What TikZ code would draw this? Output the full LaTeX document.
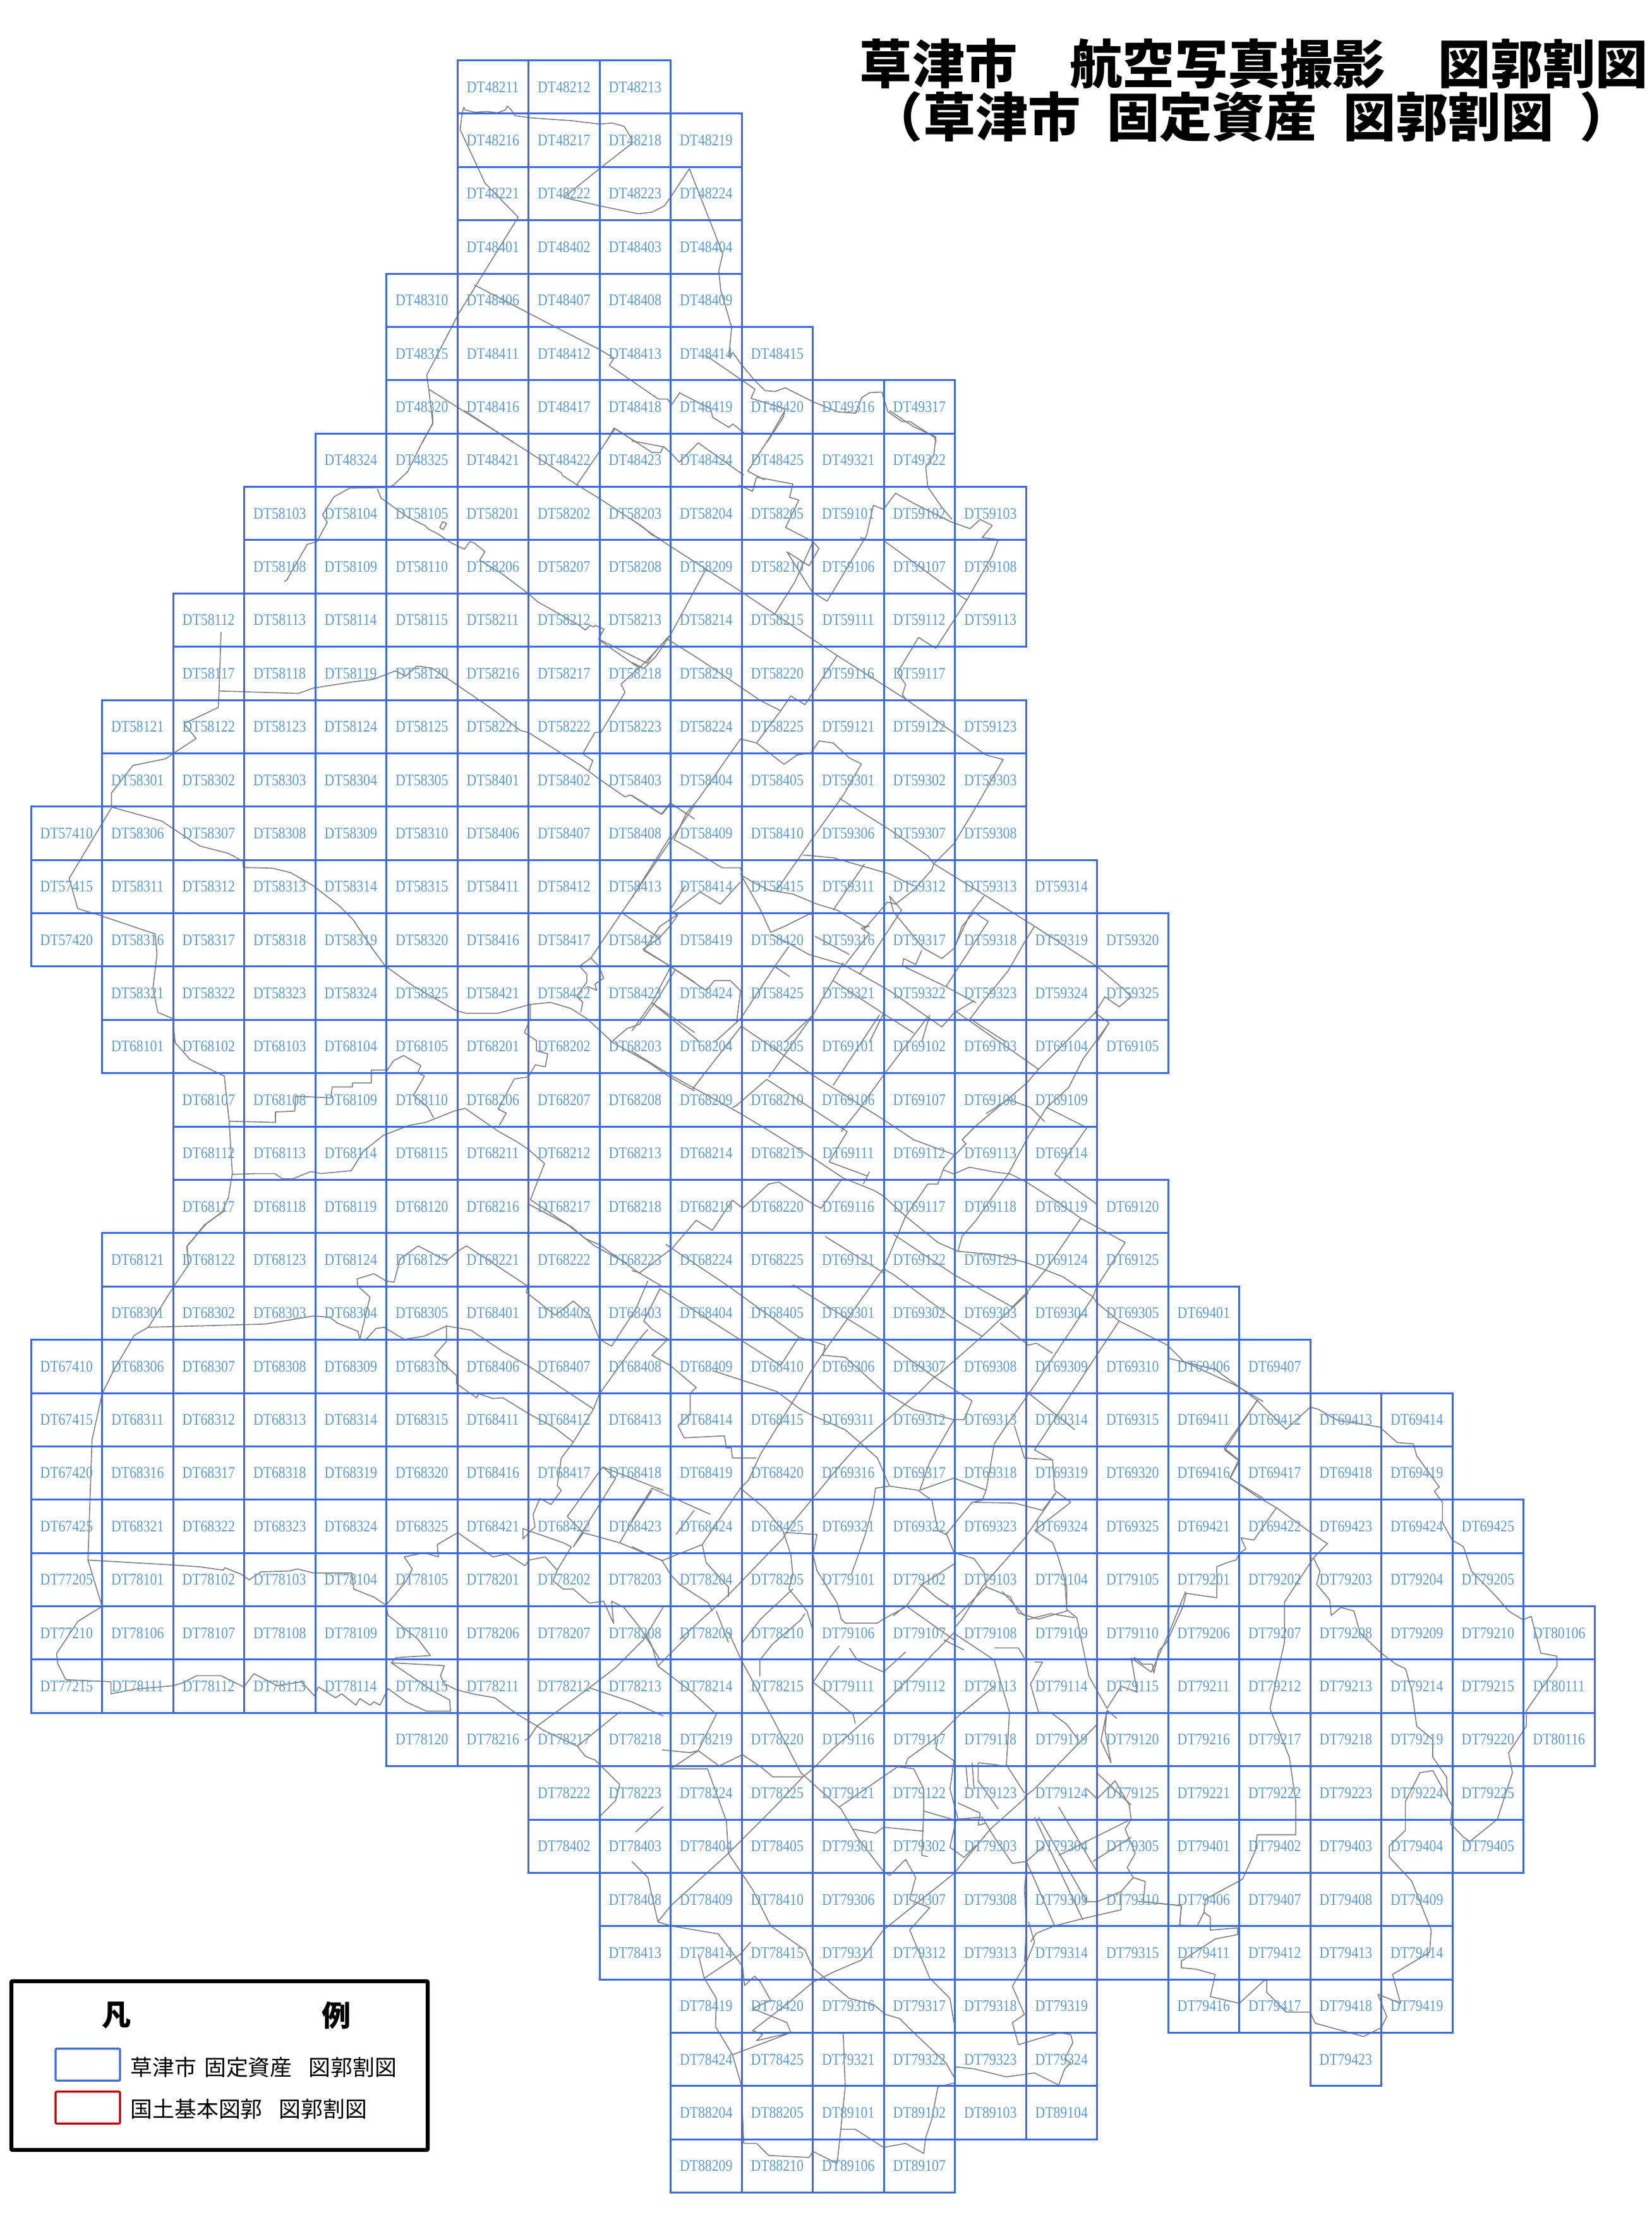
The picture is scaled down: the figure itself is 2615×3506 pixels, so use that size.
\documentclass[tikz,border=0pt]{standalone}
\usepackage{fontspec}
\newfontfamily\cjk{Noto Sans CJK JP}
\newfontfamily\celltext[FakeStretch=0.85]{Liberation Serif}
\definecolor{gridblue}{RGB}{65,105,225}
\definecolor{labelblue}{RGB}{91,155,213}
\definecolor{legendred}{RGB}{192,0,0}
\tikzset{
  road/.style={draw=black!50,line width=0.4pt,line join=round},
  cell/.style={draw=gridblue,line width=0.75pt,inner sep=0pt,minimum width=28.125pt,minimum height=21.095pt,text=labelblue,font=\celltext\fontsize{6.4pt}{6.4pt}\selectfont},
  legendbox/.style={line width=0.8pt,rounded corners=0.5pt,minimum width=25.5pt,minimum height=12.6pt,inner sep=0pt},
  legendtext/.style={anchor=west,inner sep=0pt,font=\cjk\fontsize{8.7pt}{8.7pt}\selectfont},
  titletext/.style={anchor=west,inner sep=0pt,font=\cjk\bfseries\fontsize{20.8pt}{20.8pt}\selectfont},
  tile/.style={x=0.1594pt,y=-0.1594pt}
}
\begin{document}
\begin{tikzpicture}
    [x=0.25pt,y=-0.25pt]
    \useasboundingbox (0,0) rectangle (2615,3506);
    % city boundary and roads, north part
    \begin{scope}[shift={(650,0)},x=0.1594pt,y=-0.1116pt]
      \draw[road] (132,380)--(135,390)--(160,398)--(190,395)--(215,400)--(235,390)--(240,376)--(250,390)--(258,410)--(300,418)--(400,428)--(470,440)--(500,436)--(530,448)--(548,490)--(548,510)--(470,597)--(380,700)--(470,730)--(565,758)--(600,752)--(630,730)--(645,700)--(692,598)--(775,900)--(765,960)--(770,1030)--(797,1160)--(790,1265)--(800,1250)--(820,1290)--(855,1350)--(880,1385)--(905,1388)--(930,1375)--(1000,1425)--(1060,1460)--(1105,1465)--(1120,1410)--(1140,1392)--(1170,1390)--(1185,1460)--(1220,1495)--(1240,1495)--(1300,1550)--(1305,1568);
      \draw[road] (132,380)--(128,400)--(123,460)--(185,650)--(267,770)--(120,1110)--(40,1330)--(45,1380)--(55,1500)--(30,1568);
      \draw[road] (158,1010)--(360,1160)--(470,1240)--(505,1270)--(493,1295)--(615,1415)--(638,1415)--(648,1435)--(668,1393)--(745,1450)--(750,1480)--(790,1515)--(800,1503)--(828,1535);
      \draw[road] (735,1262)--(855,1380)--(845,1412)--(930,1450)--(925,1480)--(885,1568);
      \draw[road] (45,1380)--(255,1568);
      \draw[road] (485,1568)--(505,1518)--(560,1568);
    \end{scope}
    \begin{scope}[shift={(450,650)},x=0.0957pt,y=-0.0833pt]
      \draw[road] (612,0)--(615,60)--(575,140)--(510,290)--(450,355)--(420,365)--(270,368)--(205,410)--(158,495)--(178,530)--(135,622)--(95,635)--(10,805)--(0,812);
      \draw[road] (385,372)--(400,415)--(510,505)--(580,545)--(600,565)--(635,585)--(690,628)--(745,658)--(767,622)--(785,628)--(830,670)--(808,710)--(900,775)--(1010,870)--(1050,910)--(1090,935)--(1220,1020)--(1245,1042)--(1265,1020)--(1280,1028)--(1285,1020)--(1322,1038)--(1300,1085)--(1500,1200)--(1520,1165)--(1568,1100);
      \draw[road] (745,0)--(885,105)--(1145,295)--(1150,308)--(1210,352)--(1300,415)--(1480,550)--(1520,590)--(1560,612);
      \draw[road] (1210,352)--(1368,85)--(1520,198)--(1555,200)--(1568,170);
      \draw[road] (655,527)--(671,537)--(657,565)--(643,555)--cycle;
    \end{scope}
    % middle east part
    \begin{scope}[shift={(1000,650)},tile]
      \draw[road] (0,270)--(70,320)--(265,445)--(510,608)--(680,716)--(800,800)--(880,855)--(922,866)--(860,975)--(800,1075)--(750,1125)--(880,1205)--(1000,1280)--(1155,1380)--(1220,1435)--(1240,1455)--(1210,1480)--(1175,1455)--(1150,1495)--(1185,1520)--(1155,1568);
      \draw[road] (1000,1280)--(975,1320)--(935,1390)--(870,1470)--(840,1510)--(930,1568);
      \draw[road] (515,962)--(640,1040)--(735,1105)--(750,1125)--(745,1140)--(700,1190)--(655,1225)--(635,1220)--(575,1290);
      \draw[road] (0,75)--(80,90)--(100,108)--(118,128)--(165,80)--(278,160);
      \draw[road] (380,0)--(340,70)--(288,150)--(330,172);
      \draw[road] (265,185)--(300,200)--(310,165)--(400,182)--(392,215)--(415,222)--(382,290)--(450,325)--(465,342)--(440,385)--(385,350);
      \draw[road] (450,325)--(405,425)--(355,505);
      \draw[road] (385,350)--(448,450)--(485,473)--(583,310)--(600,235)--(625,245)--(655,205)--(700,230)--(760,260)--(790,275)--(840,293)--(865,270)--(895,285)--(870,315)--(910,320)--(895,360)--(832,470)--(755,590)--(712,563)--(660,650)--(680,680)--(672,705)--(680,715);
      \draw[road] (640,0)--(700,40)--(755,65)--(750,110)--(730,140)--(735,190)--(770,240)--(795,270);
      \draw[road] (568,315)--(590,322)--(625,322)--(800,450)--(832,470);
      \draw[road] (185,392)--(97,555)--(60,610)--(30,640)--(0,625);
      \draw[road] (85,565)--(165,615)--(320,720)--(370,745)--(395,708)--(430,730)--(510,608);
      \draw[road] (370,745)--(310,825)--(378,878)--(410,855)--(445,850)--(465,820)--(500,825)--(540,862)--(570,877)--(525,955)--(450,1060)--(360,1190);
      \draw[road] (310,825)--(270,815)--(165,965)--(135,1000)--(97,975)--(75,1002)--(0,955);
      \draw[road] (135,1000)--(105,1065)--(150,1090)--(225,1135)--(270,1135)--(275,1155)--(300,1170)--(340,1190)--(400,1200)--(460,1225)--(510,1240)--(575,1280)--(590,1280)--(570,1285)--(590,1298)--(530,1375);
      \draw[road] (100,1050)--(0,1210);
      \draw[road] (425,1103)--(500,1110)--(640,1150)--(700,1180);
      \draw[road] (578,1125)--(500,1240);
      \draw[road] (640,1205)--(670,1240)--(565,1400);
      \draw[road] (270,1170)--(220,1225)--(170,1195)--(97,1250);
      \draw[road] (270,1150)--(320,1240)--(345,1295)--(380,1280)--(440,1250)--(450,1250);
      \draw[road] (875,1205)--(840,1250)--(800,1335)--(770,1360)--(725,1335)--(650,1245)--(640,1205);
      \draw[road] (885,1268)--(850,1245)--(820,1280)--(803,1330);
      \draw[road] (885,1268)--(780,1430);
      \draw[road] (345,1300)--(385,1320)--(440,1350)--(525,1375)--(640,1440)--(770,1530)--(800,1495)--(850,1465);
      \draw[road] (455,1305)--(540,1350);
      \draw[road] (720,1340)--(705,1375)--(675,1360)--(672,1378)--(780,1430)--(855,1470);
      \draw[road] (390,1330)--(355,1380)--(392,1405);
      \draw[road] (355,1380)--(270,1510)--(205,1568);
      \draw[road] (115,1250)--(70,1280)--(30,1340)--(97,1380)--(185,1440)--(205,1415)--(245,1415)--(270,1440)--(260,1520);
      \draw[road] (97,1380)--(50,1470)--(0,1540);
      \draw[road] (50,1470)--(170,1568);
      \draw[road] (525,1370)--(450,1500)--(380,1568);
      \draw[road] (500,1415)--(625,1497)--(700,1545);
      \draw[road] (625,1497)--(590,1568);
      \draw[road] (740,1500)--(720,1568);
    \end{scope}
    % middle west part
    \begin{scope}[shift={(100,1000)},tile]
      \draw[road] (392,0)--(387,147)--(385,188)--(300,228)--(330,265)--(272,303)--(255,315)--(173,332)--(120,400)--(120,435)--(245,470)--(320,520)--(340,532)--(410,550)--(447,570)--(447,585)--(520,587)--(565,598)--(620,630)--(685,680)--(720,715)--(770,790)--(800,830)--(870,880)--(975,940)--(1000,947)--(1080,947)--(1160,925)--(1210,920)--(1260,935)--(1300,960)--(1365,1020)--(1455,1070)--(1505,1105)--(1568,1140);
      \draw[road] (120,437)--(15,612)--(36,687)--(100,707)--(228,750)--(233,800)--(223,885)--(235,945)--(272,960)--(278,1020)--(315,1062)--(400,1103)--(412,1215)--(420,1345)--(410,1405)--(395,1440)--(355,1470)--(308,1525)--(310,1568);
      \draw[road] (387,147)--(585,153)--(620,140)--(715,125)--(770,118)--(825,97)--(850,110)--(878,85)--(915,90)--(975,130)--(1070,195)--(1135,245)--(1155,250)--(1290,335)--(1330,365)--(1395,410)--(1408,405)--(1485,453)--(1507,425)--(1568,465);
      \draw[road] (1290,303)--(1320,250)--(1335,250)--(1395,150)--(1385,130)--(1418,100)--(1430,90)--(1330,20)--(1335,0);
      \draw[road] (1430,90)--(1460,60)--(1505,10);
      \draw[road] (1290,303)--(1315,320)--(1305,345);
      \draw[road] (412,1215)--(527,1218)--(527,1192)--(575,1190)--(577,1153)--(665,1157)--(668,1130)--(718,1130)--(718,1120)--(765,1120)--(765,1088)--(805,1088)--(820,1065)--(845,1052)--(888,1077)--(880,1095)--(897,1103)--(870,1150)--(905,1180)--(920,1207);
      \draw[road] (420,1347)--(480,1345)--(525,1345)--(545,1358)--(570,1358)--(615,1340)--(640,1345)--(715,1338)--(745,1290)--(795,1250)--(860,1225)--(900,1218)--(970,1190)--(998,1183)--(1080,1240)--(1125,1265)--(1155,1285)--(1195,1320)--(1160,1410)--(1250,1470)--(1320,1525)--(1400,1568);
      \draw[road] (1083,1225)--(1100,1195)--(1080,1185)--(1120,1110)--(1155,1105)--(1172,1075)--(1197,1080)--(1203,1048)--(1175,1040)--(1175,1015)--(1145,995)--(1160,960)--(1160,925);
      \draw[road] (1507,520)--(1310,810)--(1282,830)--(1300,850)--(1300,870)--(1275,905)--(1290,920)--(1285,945);
      \draw[road] (1310,810)--(1330,830)--(1342,860)--(1320,875)--(1325,890)--(1300,880);
      \draw[road] (1390,700)--(1480,760)--(1507,730)--(1525,705)--(1510,695)--(1507,690)--(1545,630);
      \draw[road] (1480,760)--(1440,788)--(1507,830)--(1568,870);
      \draw[road] (1520,838)--(1480,905)--(1430,975)--(1400,985)--(1365,1015);
      \draw[road] (1463,922)--(1568,995);
      \draw[road] (1507,520)--(1568,430);
    \end{scope}
    % south west part
    \begin{scope}[shift={(50,1900)},tile]
      \draw[road] (480,25)--(430,60)--(385,115)--(390,160)--(352,215)--(290,315)--(255,335)--(205,420)--(175,480)--(150,595)--(140,893)--(175,1008)--(115,1045)--(62,1125)--(65,1150)--(85,1190)--(197,1195)--(197,1225)--(260,1213)--(350,1205)--(375,1198)--(410,1180)--(470,1180)--(527,1208)--(552,1175)--(610,1205)--(670,1195)--(702,1230)--(712,1208)--(755,1235)--(770,1225)--(805,1253)--(815,1237)--(840,1253)--(850,1245)--(865,1253)--(885,1212)--(930,1245)--(980,1268)--(1040,1268)--(1038,1240)--(1000,1220)--(893,1148);
      \draw[road] (290,315)--(580,307)--(700,287)--(740,290)--(760,305)--(810,325)--(815,345)--(828,348)--(855,318)--(875,315)--(925,345)--(975,337)--(1030,312)--(1090,322)--(1170,375)--(1235,412)--(1395,518)--(1410,480)--(1500,355)--(1530,320);
      \draw[road] (140,893)--(350,905)--(420,910)--(475,918)--(480,912)--(520,928)--(540,942)--(570,922)--(640,920)--(660,915)--(700,925)--(795,925)--(800,965)--(850,985)--(880,1005)--(885,1030)--(960,1090)--(990,1130)--(905,1135)--(893,1148)--(1025,1155)--(1015,1180)--(1025,1200)--(1055,1215)--(1095,1225)--(1150,1235)--(1205,1275)--(1255,1305)--(1235,1335)--(1225,1340);
      \draw[road] (880,1005)--(930,945)--(945,915)--(925,885)--(975,875)--(1010,885)--(1007,855)--(1035,838)--(1058,825)--(1145,885)--(1180,878)--(1225,907)--(1235,893)--(1275,885)--(1305,918)--(1340,860)--(1320,850)--(1220,815)--(1220,840)--(1250,810)--(1245,780)--(1262,740)--(1290,755)--(1315,720)--(1305,708)--(1315,640)--(1345,600)--(1300,565)--(1235,530)--(1170,490)--(1145,492)--(1110,480)--(1105,490)--(1055,455)--(1055,435)--(1000,385)--(1030,350)--(1030,312);
      \draw[road] (810,213)--(808,195)--(850,182)--(880,200)--(900,203)--(915,145)--(960,113)--(1030,150)--(1060,125)--(1080,113)--(1232,213)--(1228,228)--(1300,285)--(1345,250)--(1385,285)--(1410,345)--(1440,362)--(1500,270)--(1530,200);
      \draw[road] (810,213)--(840,240)--(815,345);
      \draw[road] (1235,10)--(1340,65)--(1375,95)--(1410,110)--(1505,178)--(1568,215);
      \draw[road] (1395,518)--(1345,600);
      \draw[road] (1418,662)--(1330,785)--(1370,825)--(1345,860)--(1360,835)--(1450,690)--(1418,662)--(1568,720);
      \draw[road] (1540,720)--(1495,790)--(1460,850)--(1568,895);
      \draw[road] (1370,825)--(1460,850);
      \draw[road] (1305,918)--(1295,945)--(1320,965)--(1345,965)--(1385,1000)--(1420,995)--(1445,1050)--(1440,995)--(1470,1010)--(1510,1060)--(1560,1140);
      \draw[road] (1568,1010)--(1520,1090)--(1450,1160)--(1385,1210)--(1255,1305);
      \draw[road] (1385,1210)--(1490,1245)--(1568,1280);
      \draw[road] (1255,1305)--(1270,1315)--(1355,1355)--(1460,1270);
      \draw[road] (1355,1355)--(1375,1380)--(1400,1390)--(1460,1450)--(1450,1490)--(1410,1530);
      \draw[road] (1568,1505)--(1500,1568);
    \end{scope}
    % centre part
    \begin{scope}[shift={(1000,1600)},tile]
      \draw[road] (0,100)--(97,160)--(270,255)--(320,285)--(450,365)--(525,415)--(600,445)--(625,460)--(680,510)--(760,575)--(810,597)--(900,605)--(980,625)--(1070,660)--(1145,710)--(1155,725)--(1210,770)--(1330,830)--(1370,870)--(1500,930)--(1568,970);
      \draw[road] (272,38)--(150,195);
      \draw[road] (272,38)--(450,160)--(625,270)--(700,320)--(795,355)--(803,360);
      \draw[road] (335,170)--(260,235)--(250,240);
      \draw[road] (335,170)--(535,300);
      \draw[road] (615,10)--(500,185);
      \draw[road] (450,10)--(340,165);
      \draw[road] (520,300)--(560,250)--(625,160)--(735,15);
      \draw[road] (535,300)--(490,375)--(585,410)--(590,400)--(575,430);
      \draw[road] (803,0)--(1010,145)--(980,180)--(855,285)--(820,320)--(830,330)--(795,365)--(775,390)--(760,430)--(735,430)--(680,510)--(625,640)--(560,730)--(475,850)--(445,895)--(400,970)--(320,1100)--(290,1165)--(270,1185)--(330,1235)--(375,1290);
      \draw[road] (775,395)--(800,405)--(838,388)--(900,400)--(940,405)--(980,425)--(1050,470)--(1115,515)--(1225,575)--(1155,685)--(1145,710)--(1000,930);
      \draw[road] (1185,30)--(1120,120)--(1085,190)--(1030,240)--(1130,290)--(1050,405)--(1155,480);
      \draw[road] (1030,240)--(980,320)--(935,405)--(855,520)--(820,560)--(810,597);
      \draw[road] (880,255)--(935,220)--(990,240)--(1025,275);
      \draw[road] (1155,0)--(1010,145);
      \draw[road] (650,555)--(800,655)--(945,735)--(980,700)--(1030,640)--(1115,515);
      \draw[road] (625,640)--(650,655)--(800,765)--(870,808)--(985,700);
      \draw[road] (870,808)--(765,900)--(750,910)--(715,945)--(565,1075)--(520,1125)--(400,1270)--(375,1310);
      \draw[road] (480,560)--(625,650);
      \draw[road] (400,680)--(625,820)--(760,915)--(800,940)--(845,968)--(825,1015)--(800,1015)--(740,1120)--(715,1190);
      \draw[road] (0,645)--(20,650)--(100,590)--(85,580)--(235,680)--(415,810)--(480,830)--(475,855)--(530,860)--(625,945)--(700,990)--(800,1015);
      \draw[road] (100,590)--(160,520)--(200,545)--(250,470)--(275,490)--(340,430)--(365,425)--(450,480)--(470,490)--(520,420);
      \draw[road] (415,810)--(370,880)--(275,820)--(70,690)--(30,770)--(50,790)--(90,815)--(50,855)--(95,880)--(160,935)--(145,950)--(145,1000)--(115,1030)--(130,1060)--(230,1055)--(235,1085)--(247,1085)--(250,1110)--(310,1110);
      \draw[road] (200,893)--(360,945)--(420,990)--(450,1005)--(530,1040)--(610,1110)--(640,1180)--(710,1190)--(745,1215)--(760,1290)--(780,1300)--(845,1220);
      \draw[road] (915,775)--(985,830)--(1005,825)--(1045,850);
      \draw[road] (1210,770)--(1000,1090)--(1045,1115)--(1050,1190)--(1090,1220)--(1000,1290);
      \draw[road] (980,945)--(1100,1040);
      \draw[road] (1000,930)--(930,1030)--(900,1075)--(880,1190)--(870,1215)--(845,1220)--(950,1222)--(1020,1240)--(1050,1200);
      \draw[road] (950,1030)--(975,1110)--(1045,1115);
      \draw[road] (1054,1195)--(975,1310)--(870,1430)--(820,1510)--(803,1530);
      \draw[road] (780,1295)--(800,1345)--(850,1360)--(875,1395)--(880,1430)--(940,1455)--(960,1495)--(1010,1510)--(1080,1490)--(1080,1430)--(1060,1360)--(1045,1320)--(1000,1290);
      \draw[road] (715,1190)--(800,1160)--(880,1190);
      \draw[road] (640,1180)--(605,1185)--(600,1225)--(580,1300)--(545,1400);
      \draw[road] (375,1290)--(395,1350)--(400,1400)--(390,1435)--(435,1490)--(450,1540);
      \draw[road] (380,1295)--(460,1300)--(450,1350)--(460,1390)--(510,1470)--(520,1510)--(530,1520)--(610,1520)--(625,1510)--(680,1480)--(720,1425)--(805,1370);
      \draw[road] (720,1425)--(755,1455)--(800,1485);
      \draw[road] (880,1430)--(830,1480)--(800,1510);
      \draw[road] (50,1185)--(195,1250);
      \draw[road] (50,1185)--(0,1265);
      \draw[road] (155,1240)--(110,1300);
      \draw[road] (270,1185)--(175,1325)--(185,1370)--(240,1430)--(240,1455);
      \draw[road] (175,1325)--(75,1365);
      \draw[road] (375,1310)--(240,1450)--(120,1560);
      \draw[road] (0,1330)--(75,1365)--(97,1400)--(120,1425)--(190,1470)--(200,1490);
      \draw[road] (210,1490)--(240,1568);
      \draw[road] (400,1435)--(320,1510)--(275,1568);
      \draw[road] (1470,1085)--(1555,965);
      \draw[road] (1470,1085)--(1507,1115)--(1485,1160)--(1568,1210);
    \end{scope}
    % south east part
    \begin{scope}[shift={(1000,2500)},tile]
      \draw[road] (35,135)--(50,165)--(65,215)--(150,280)--(210,335)--(165,425)--(97,470);
      \draw[road] (75,423)--(145,430)--(165,425)--(217,463)--(275,435)--(320,465)--(350,490)--(425,490);
      \draw[road] (65,215)--(140,140);
      \draw[road] (802,130)--(625,310)--(500,420)--(450,470)--(425,490)--(350,570)--(240,680)--(97,810)--(65,850);
      \draw[road] (980,540)--(890,620)--(800,730)--(625,870)--(570,945)--(500,975)--(450,1000)--(390,1050)--(300,1120)--(325,1130)--(310,1145)--(395,1125)--(250,1180);
      \draw[road] (395,1125)--(385,1100)--(300,1065)--(345,1045)--(320,1000)--(305,985)--(280,1008)--(275,960)--(215,880)--(97,860)--(65,850)--(40,740)--(0,700);
      \draw[road] (100,470)--(188,470)--(235,600)--(240,680)--(270,725)--(300,770)--(345,860)--(430,920)--(450,965)--(480,990)--(540,1040)--(600,1055)--(630,1080)--(665,1090)--(700,1125)--(780,1200)--(800,1235)--(805,1210)--(850,1215)--(930,1235)--(1000,1225)--(1060,1255)--(1075,1215)--(1090,1200)--(1075,1190)--(1095,1150)--(1090,1130)--(1060,1125)--(960,1155)--(945,1100)--(975,1080)--(945,1010)--(980,950)--(1000,900)--(985,850);
      \draw[road] (240,130)--(272,200)--(350,345)--(420,480)--(520,570)--(560,640)--(625,725)--(640,735)--(680,695)--(705,740)--(690,795)--(740,815)--(690,870)--(740,990)--(790,1040)--(800,1100);
      \draw[road] (515,565)--(660,465)--(700,470)--(725,520)--(725,575)--(720,685)--(735,688);
      \draw[road] (725,575)--(805,598)--(790,665)--(825,690)--(855,660);
      \draw[road] (550,620)--(605,630)--(625,615)--(725,625);
      \draw[road] (318,240)--(318,200)--(350,160)--(420,100)--(430,85);
      \draw[road] (450,255)--(550,335)--(555,358);
      \draw[road] (515,165)--(495,190)--(450,255);
      \draw[road] (540,170)--(560,200)--(625,230)--(680,180);
      \draw[road] (802,135)--(900,200)--(938,330)--(930,460)--(975,530);
      \draw[road] (900,265)--(810,340)--(760,390)--(685,445)--(680,460);
      \draw[road] (760,395)--(755,420)--(800,450)--(790,520)--(810,595)--(870,590)--(900,640)--(945,705)--(980,700)--(1025,660);
      \draw[road] (810,555)--(865,580)--(860,610)--(880,605);
      \draw[road] (830,465)--(835,520);
      \draw[road] (845,455)--(850,520);
      \draw[road] (860,455)--(860,500)--(910,570);
      \draw[road] (860,455)--(905,460)--(930,465);
      \draw[road] (980,700)--(1050,860)--(1005,878)--(990,900);
      \draw[road] (1050,860)--(1120,842)--(1215,820)--(1215,775)--(1155,800)--(1120,800);
      \draw[road] (1000,590)--(1120,845);
      \draw[road] (1010,590)--(1130,800);
      \draw[road] (1060,565)--(1155,725);
      \draw[road] (1060,685)--(1240,595)--(1235,560)--(1200,500)--(1155,545)--(1130,520);
      \draw[road] (1145,700)--(1240,640);
      \draw[road] (1240,595)--(1225,620)--(1250,680)--(1230,715)--(1245,740)--(1215,775);
      \draw[road] (1245,740)--(1275,750)--(1270,800)--(1365,810)--(1360,858)--(1405,860);
      \draw[road] (980,715)--(975,770)--(980,860)--(975,950);
      \draw[road] (1155,360)--(1000,520)--(975,540);
      \draw[road] (1180,325)--(1175,375)--(1185,430)--(1190,455)--(1165,400)--(1175,350)--(1180,325)--(1205,345);
      \draw[road] (1155,480)--(1165,490)--(1240,560);
      \draw[road] (1075,0)--(1080,75)--(1105,95)--(1135,240)--(1180,320)--(1215,265)--(1255,280)--(1240,195)--(1290,230)--(1335,130)--(1375,30);
      \draw[road] (980,100)--(1040,85)--(1100,95);
      \draw[road] (1000,205)--(1020,205)--(990,260)--(1010,330)--(1040,330)--(1080,360)--(1110,400);
      \draw[road] (920,30)--(975,90);
      \draw[road] (775,150)--(825,175);
      \draw[road] (900,170)--(960,170)--(975,195);
      \draw[road] (650,90)--(680,65)--(800,150);
      \draw[road] (525,1125)--(530,1260)--(510,1450);
      \draw[road] (520,1365)--(555,1365)--(625,1410)--(680,1400)--(725,1425)--(730,1385)--(745,1340)--(760,1260)--(800,1250);
      \draw[road] (272,1255)--(278,1400)--(310,1400)--(340,1430)--(440,1435)--(450,1420)--(510,1450);
      \draw[road] (250,1180)--(272,1255);
      \draw[road] (208,1110)--(250,1180);
      \draw[road] (180,990)--(210,1040)--(208,1110);
      \draw[road] (165,930)--(180,990)--(270,930)--(295,900);
    \end{scope}
    % far east part
    \begin{scope}[shift={(1750,2150)},x=0.1276pt,y=-0.1754pt]
      \draw[road] (195,0)--(340,25)--(415,65)--(470,95)--(560,160)--(635,110)--(660,115)--(720,140)--(850,155)--(905,190)--(955,193)--(965,220)--(1010,265)--(1035,290)--(1020,300)--(1045,325)--(1045,370)--(1075,410)--(1110,425)--(1135,480)--(1215,540)--(1250,570)--(1295,590)--(1320,582)--(1350,665)--(1400,672)--(1400,695)--(1305,795)--(1305,830)--(1250,890)--(1262,935)--(1215,1040)--(1130,1090)--(1110,1080)--(1070,1050)--(1075,1010)--(1060,990)--(1058,945)--(1015,900)--(1015,860)--(965,830)--(950,750)--(930,700)--(900,690)--(855,665)--(790,620)--(770,570)--(730,562)--(700,580)--(695,545)--(655,510)--(665,480)--(645,450)--(688,418)--(640,395)--(530,337)--(470,312)--(387,270)--(415,232)--(370,207)--(470,95);
      \draw[road] (530,337)--(460,410)--(420,405)--(435,430)--(415,440)--(405,455)--(380,460)--(345,470)--(345,540)--(295,535)--(250,530)--(240,560)--(190,640)--(165,660)--(150,710)--(145,690)--(115,690)--(90,675)--(80,685);
      \draw[road] (645,450)--(555,550)--(555,640)--(510,790)--(570,900)--(590,1000)--(590,1075)--(470,1075)--(465,1110)--(425,1175)--(310,1220)--(305,1250)--(285,1280)--(230,1280)--(235,1235)--(100,1225);
      \draw[road] (305,1250)--(325,1260)--(325,1290)--(410,1285)--(410,1300)--(340,1310)--(235,1360)--(235,1375)--(280,1378)--(340,1390)--(325,1440)--(415,1455)--(490,1405)--(500,1402)--(500,1430)--(560,1475)--(635,1475)--(650,1500)--(800,1530)--(855,1510)--(872,1485)--(845,1435)--(915,1455)--(890,1390)--(1005,1340)--(1010,1290)--(950,1180)--(880,1125)--(880,1100)--(930,1065)--(930,1000)--(975,935)--(1015,930)--(1060,990);
    \end{scope}
    % map sheets: row/column/first code/count
    \foreach \rowno/\colno/\code/\num in {
      0/6/48211/3,1/6/48216/4,2/6/48221/4,3/6/48401/4,
      4/5/48310/1,4/6/48406/4,5/5/48315/1,5/6/48411/5,
      6/5/48320/1,6/6/48416/5,6/11/49316/2,7/4/48324/2,7/6/48421/5,7/11/49321/2,
      8/3/58103/3,8/6/58201/5,8/11/59101/3,9/3/58108/3,9/6/58206/5,9/11/59106/3,
      10/2/58112/4,10/6/58211/5,10/11/59111/3,11/2/58117/4,11/6/58216/5,11/11/59116/2,
      12/1/58121/5,12/6/58221/5,12/11/59121/3,13/1/58301/5,13/6/58401/5,13/11/59301/3,
      14/0/57410/1,14/1/58306/5,14/6/58406/5,14/11/59306/3,
      15/0/57415/1,15/1/58311/5,15/6/58411/5,15/11/59311/4,
      16/0/57420/1,16/1/58316/5,16/6/58416/5,16/11/59316/5,
      17/1/58321/5,17/6/58421/5,17/11/59321/5,18/1/68101/5,18/6/68201/5,18/11/69101/5,
      19/2/68107/4,19/6/68206/5,19/11/69106/4,20/2/68112/4,20/6/68211/5,20/11/69111/4,
      21/2/68117/4,21/6/68216/5,21/11/69116/5,22/1/68121/5,22/6/68221/5,22/11/69121/5,
      23/1/68301/5,23/6/68401/5,23/11/69301/5,23/16/69401/1,
      24/0/67410/1,24/1/68306/5,24/6/68406/5,24/11/69306/5,24/16/69406/2,
      25/0/67415/1,25/1/68311/5,25/6/68411/5,25/11/69311/5,25/16/69411/4,
      26/0/67420/1,26/1/68316/5,26/6/68416/5,26/11/69316/5,26/16/69416/4,
      27/0/67425/1,27/1/68321/5,27/6/68421/5,27/11/69321/5,27/16/69421/5,
      28/0/77205/1,28/1/78101/5,28/6/78201/5,28/11/79101/5,28/16/79201/5,
      29/0/77210/1,29/1/78106/5,29/6/78206/5,29/11/79106/5,29/16/79206/5,29/21/80106/1,
      30/0/77215/1,30/1/78111/5,30/6/78211/5,30/11/79111/5,30/16/79211/5,30/21/80111/1,
      31/5/78120/1,31/6/78216/5,31/11/79116/5,31/16/79216/5,31/21/80116/1,
      32/7/78222/4,32/11/79121/5,32/16/79221/5,33/7/78402/4,33/11/79301/5,33/16/79401/5,
      34/8/78408/3,34/11/79306/5,34/16/79406/4,35/8/78413/3,35/11/79311/5,35/16/79411/4,
      36/9/78419/2,36/11/79316/4,36/16/79416/4,37/9/78424/2,37/11/79321/4,37/18/79423/1,
      38/9/88204/2,38/11/89101/4,39/9/88209/2,39/11/89106/2}
      \foreach \k in {1,...,\num}{
        \edef\sheet{\the\numexpr\code+\k-1\relax}
        \node[cell] (DT\sheet) at ({49+112.5*(\colno+\k-0.5)},{95.5+84.38*(\rowno+0.5)}) {DT\sheet};
      }
    % title
    \node[titletext] (title) at (1360,101) {草津市　航空写真撮影　図郭割図};
    \node[titletext] (subtitle) at (1377,185) {（草津市\hspace{0.5em}固定資産\hspace{0.5em}図郭割図\hspace{0.5em}）};
    % legend
    \node[draw=black,line width=1.6pt,rounded corners=0.5pt,minimum width=164.75pt,minimum height=66.75pt,inner sep=0pt] (legend) at (347.5,3269.5) {};
    \node[font=\cjk\bfseries\fontsize{11.5pt}{11.5pt}\selectfont,inner sep=0pt] (fan) at (184,3190) {凡};
    \node[font=\cjk\bfseries\fontsize{11.5pt}{11.5pt}\selectfont,inner sep=0pt] (rei) at (532,3190) {例};
    \node[legendbox,draw=gridblue] (bluebox) at (139,3268) {};
    \node[legendbox,draw=legendred] (redbox) at (139,3336) {};
    \node[legendtext] (bluetext) at (206,3272) {草津市\hspace{0.35em}固定資産\hspace{0.75em}図郭割図};
    \node[legendtext] (redtext) at (206,3338) {国土基本図郭\hspace{0.75em}図郭割図};
\end{tikzpicture}
\end{document}
